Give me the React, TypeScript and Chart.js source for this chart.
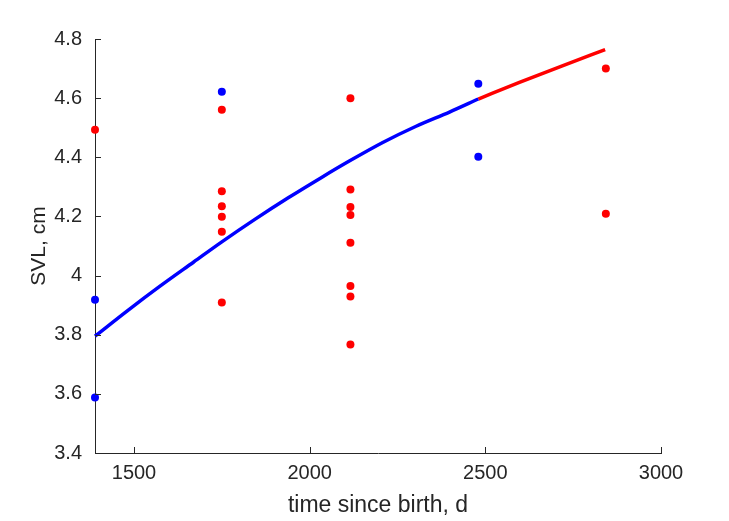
import React, { useEffect, useRef } from "react";
import { Chart, registerables } from "chart.js";

Chart.register(...registerables);

// Observed points (blue group)
const blueX = [1389, 1389, 1750, 2480, 2480];
const blueY = [3.918, 3.588, 4.622, 4.649, 4.402];

// Observed points (red group)
const redX = [1389, 1750, 1750, 1750, 1750, 1750, 1750, 2116, 2116, 2116, 2116, 2116, 2116, 2116, 2116, 2843, 2843];
const redY = [4.493, 4.561, 4.285, 4.234, 4.199, 4.148, 3.909, 4.600, 4.291, 4.232, 4.205, 4.111, 3.965, 3.929, 3.767, 4.700, 4.209];

// Fitted curve, blue part
const curveBlueX = [1389, 1480, 1575, 1670, 1750, 1844, 1939, 2034, 2114, 2208, 2303, 2398, 2480];
const curveBlueY = [3.795, 3.880, 3.965, 4.046, 4.114, 4.190, 4.263, 4.332, 4.388, 4.450, 4.505, 4.553, 4.597];

// Fitted curve, red part
const curveRedX = [2480, 2597, 2721, 2841];
const curveRedY = [4.597, 4.653, 4.710, 4.764];

const xTicks = [1500, 2000, 2500, 3000];
const yTicks = [3.4, 3.6, 3.8, 4.0, 4.2, 4.4, 4.6, 4.8];

const X_MIN = 1389;
const X_MAX = 3000;
const Y_MIN = 3.4;
const Y_MAX = 4.8;

const xLabel = "time since birth, d";
const yLabel = "SVL, cm";

const TEXT = "#262626";
const FONT = "'Liberation Sans', Arial, Helvetica, sans-serif";

const pts = (xs: number[], ys: number[]) => xs.map((x, i) => ({ x, y: ys[i] }));

const inwardTicks = {
  id: "inwardTicks",
  afterDraw(chart: any) {
    const { ctx, chartArea, scales } = chart;
    const len = 6;
    ctx.save();
    ctx.strokeStyle = TEXT;
    ctx.lineWidth = 1;
    ctx.beginPath();
    scales.x.ticks.forEach((t: any) => {
      const px = Math.round(scales.x.getPixelForValue(t.value)) + 0.5;
      ctx.moveTo(px, chartArea.bottom);
      ctx.lineTo(px, chartArea.bottom - len);
    });
    scales.y.ticks.forEach((t: any) => {
      const py = Math.round(scales.y.getPixelForValue(t.value)) + 0.5;
      ctx.moveTo(chartArea.left, py);
      ctx.lineTo(chartArea.left + len, py);
    });
    ctx.stroke();
    ctx.restore();
  },
};

export default function App() {
  const ref = useRef<HTMLCanvasElement | null>(null);

  useEffect(() => {
    if (!ref.current) return;
    const chart = new Chart(ref.current, {
      type: "scatter",
      data: {
        datasets: [
          {
            type: "line",
            data: pts(curveBlueX, curveBlueY),
            borderColor: "#0000ff",
            borderWidth: 3.5,
            pointRadius: 0,
            fill: false,
            cubicInterpolationMode: "monotone",
            clip: false,
            order: 0,
          },
          {
            type: "line",
            data: pts(curveRedX, curveRedY),
            borderColor: "#ff0000",
            borderWidth: 3.5,
            pointRadius: 0,
            fill: false,
            cubicInterpolationMode: "monotone",
            clip: false,
            order: 0,
          },
          {
            data: pts(blueX, blueY),
            backgroundColor: "#0000ff",
            borderColor: "#0000ff",
            borderWidth: 0,
            pointRadius: 4,
            clip: false,
            order: 1,
          },
          {
            data: pts(redX, redY),
            backgroundColor: "#ff0000",
            borderColor: "#ff0000",
            borderWidth: 0,
            pointRadius: 4,
            clip: false,
            order: 1,
          },
        ] as any,
      },
      options: {
        animation: false,
        responsive: false,
        devicePixelRatio: 1,
        layout: { padding: { left: 0, right: 68, top: 39, bottom: 0 } },
        plugins: {
          legend: { display: false },
          tooltip: { enabled: false },
        },
        scales: {
          x: {
            type: "linear",
            min: X_MIN,
            max: X_MAX,
            grid: { display: false },
            border: { display: true, color: TEXT, width: 1 },
            afterBuildTicks: (s: any) => {
              s.ticks = xTicks.map((v) => ({ value: v }));
            },
            afterFit: (s: any) => {
              s.height = 68;
            },
            ticks: {
              color: TEXT,
              padding: 0,
              maxRotation: 0,
              font: { family: FONT, size: 20 },
              callback: (v: any) => String(v),
            },
            title: {
              display: true,
              text: xLabel,
              color: TEXT,
              font: { family: FONT, size: 23 },
              padding: { top: 0, bottom: 2 },
            },
          },
          y: {
            type: "linear",
            min: Y_MIN,
            max: Y_MAX,
            grid: { display: false },
            border: { display: true, color: TEXT, width: 1 },
            afterBuildTicks: (s: any) => {
              s.ticks = yTicks.map((v) => ({ value: v }));
            },
            afterFit: (s: any) => {
              s.width = 95;
            },
            ticks: {
              color: TEXT,
              padding: 5,
              font: { family: FONT, size: 20 },
              callback: (v: any) => String(Number(Number(v).toFixed(1))),
            },
            title: {
              display: true,
              text: yLabel,
              color: TEXT,
              font: { family: FONT, size: 21 },
              padding: { top: 27, bottom: 0 },
            },
          },
        },
      },
      plugins: [inwardTicks],
    } as any);
    return () => chart.destroy();
  }, []);

  return (
    <div style={{ position: "absolute", left: 0, top: 0, width: 729, height: 521, background: "#fff" }}>
      <canvas ref={ref} width={729} height={521} />
    </div>
  );
}
